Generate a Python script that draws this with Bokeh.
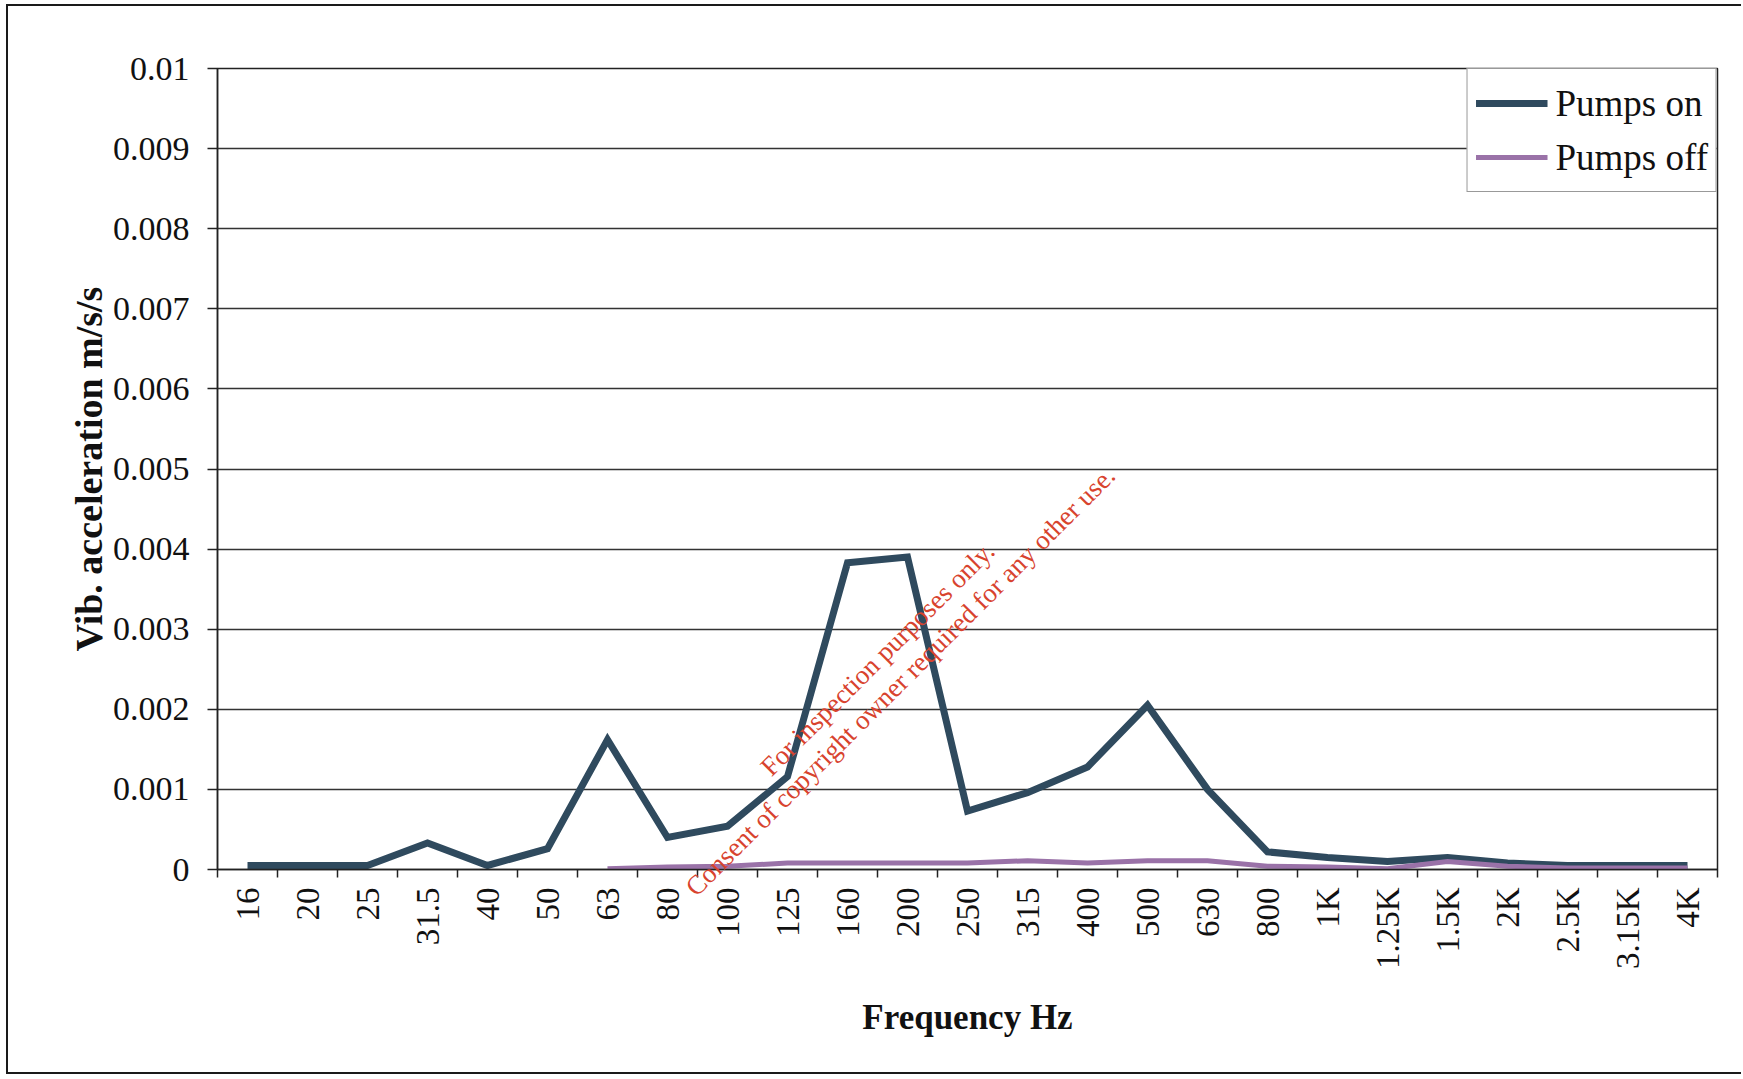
import math
from bokeh.plotting import figure
from bokeh.models import (Range1d, FixedTicker, PrintfTickFormatter, CustomJSTickFormatter,
                          Legend, LegendItem, Label, ColumnDataSource)
from bokeh.embed import file_html
from bokeh.resources import INLINE

# ---------------- data ----------------
categories = ["16", "20", "25", "31.5", "40", "50", "63", "80", "100", "125",
              "160", "200", "250", "315", "400", "500", "630", "800", "1K",
              "1.25K", "1.5K", "2K", "2.5K", "3.15K", "4K"]
pumps_on = [0.00005, 0.00005, 0.00005, 0.00033, 0.00005, 0.00026, 0.00162,
            0.00040, 0.00054, 0.00116, 0.00383, 0.00390, 0.00073, 0.00096,
            0.00128, 0.00205, 0.00100, 0.00022, 0.00015, 0.00010, 0.00015,
            0.00008, 0.00005, 0.00005, 0.00005]
nan = float("nan")
pumps_off = [nan, nan, nan, nan, nan, nan, 0.00001,
             0.00003, 0.00004, 0.00008, 0.00008, 0.00008, 0.00008, 0.00011,
             0.00008, 0.00011, 0.00011, 0.00004, 0.00003, 0.00001, 0.00010,
             0.00004, 0.00002, 0.00002, 0.00002]
y_ticks = [0, 0.001, 0.002, 0.003, 0.004, 0.005, 0.006, 0.007, 0.008, 0.009, 0.01]
series_names = ["Pumps on", "Pumps off"]
x_title = "Frequency Hz"
y_title = "Vib. acceleration m/s/s"
watermark = ["For inspection purposes only.",
             "Consent of copyright owner required for any other use."]

# ---------------- figure ----------------
n = len(categories)
xs = [i + 0.5 for i in range(n)]
src = ColumnDataSource(dict(x=xs, on=pumps_on, off=pumps_off))

FONT = "Liberation Serif"
AXIS_COLOR = "#222222"

p = figure(frame_width=1500, frame_height=801, output_backend="svg", toolbar_location=None,
           x_range=Range1d(y_ticks[0] * 0, n), y_range=Range1d(y_ticks[0], y_ticks[-1]),
           min_border_left=209, min_border_right=24, min_border_top=62,
           min_border_bottom=207)
# the canvas grows below (watermark side panel); the visible box is cut to the page size
p.styles = {"border-left": "2px solid #1a1a1a", "border-top": "2px solid #1a1a1a",
            "border-bottom": "2px solid #1a1a1a", "margin-left": "6px",
            "margin-top": "4px", "height": "1070px", "overflow": "hidden"}
p.background_fill_color = "white"
p.border_fill_color = "white"
p.outline_line_color = AXIS_COLOR
p.outline_line_width = 1.5

# grid
p.xgrid.visible = False
p.ygrid.ticker = FixedTicker(ticks=y_ticks)
p.ygrid.grid_line_color = "#333333"
p.ygrid.grid_line_width = 1.5

# x axis
xa = p.xaxis[0]
xa.ticker = FixedTicker(ticks=xs, minor_ticks=list(range(n + 1)))
xa.formatter = CustomJSTickFormatter(args=dict(labels=categories),
                                     code="const i = Math.round(tick - 0.5); return labels[i] || '';")
xa.major_tick_in = 0
xa.major_tick_out = 0
xa.minor_tick_in = 0
xa.minor_tick_out = 8
xa.minor_tick_line_color = AXIS_COLOR
xa.minor_tick_line_width = 1.5
xa.axis_line_color = AXIS_COLOR
xa.axis_line_width = 1.5
xa.major_label_orientation = math.pi / 2
xa.major_label_text_font = FONT
xa.major_label_text_font_size = "33px"
xa.major_label_text_color = "#111111"
xa.major_label_standoff = 10
xa.axis_label = x_title
xa.axis_label_text_font = FONT
xa.axis_label_text_font_style = "bold"
xa.axis_label_text_font_size = "35px"
xa.axis_label_text_color = "#111111"
xa.axis_label_standoff = 26

# y axis
ya = p.yaxis[0]
ya.ticker = FixedTicker(ticks=y_ticks)
ya.formatter = PrintfTickFormatter(format="%g")
ya.major_tick_in = 0
ya.major_tick_out = 10
ya.minor_tick_out = 0
ya.minor_tick_in = 0
ya.major_tick_line_color = AXIS_COLOR
ya.major_tick_line_width = 1.5
ya.axis_line_color = AXIS_COLOR
ya.axis_line_width = 1.5
ya.major_label_text_font = FONT
ya.major_label_text_font_size = "34px"
ya.major_label_text_color = "#111111"
ya.major_label_standoff = 18
ya.axis_label = y_title
ya.axis_label_text_font = FONT
ya.axis_label_text_font_style = "bold"
ya.axis_label_text_font_size = "38px"
ya.axis_label_text_color = "#111111"
ya.axis_label_standoff = 0

# lines
r_on = p.line("x", "on", source=src, line_color="#2f4a5e", line_width=7, line_join="miter")
r_off = p.line("x", "off", source=src, line_color="#9a72a8", line_width=5, line_join="miter")

legend = Legend(items=[LegendItem(label=series_names[0], renderers=[r_on]),
                       LegendItem(label=series_names[1], renderers=[r_off])],
                location="top_right")
legend.margin = 0
legend.padding = 8
legend.spacing = 2
legend.glyph_width = 72
legend.glyph_height = 52
legend.label_standoff = 8
legend.label_text_font = FONT
legend.label_text_font_size = "37px"
legend.label_text_color = "#111111"
legend.border_line_color = "#333333"
legend.border_line_width = 1.5
legend.background_fill_color = "white"
legend.background_fill_alpha = 1.0
p.add_layout(legend)

# watermark
wm_angle = math.radians(45)
p.add_layout(Label(x=11.0, y=0.00263, text=watermark[0], angle=wm_angle,
                   text_align="center", text_baseline="alphabetic",
                   text_color="#d8432e", text_font=FONT, text_font_size="27px"))
# this line crosses below the x axis: a side-panel label is not clipped to the frame
p.add_layout(Label(x=11.38, y=0.00235, text=watermark[1], angle=wm_angle,
                   text_align="center", text_baseline="alphabetic",
                   text_color="#d8432e", text_font=FONT, text_font_size="27px"),
             "below")

open("out.html", "w").write(file_html(p, INLINE))
